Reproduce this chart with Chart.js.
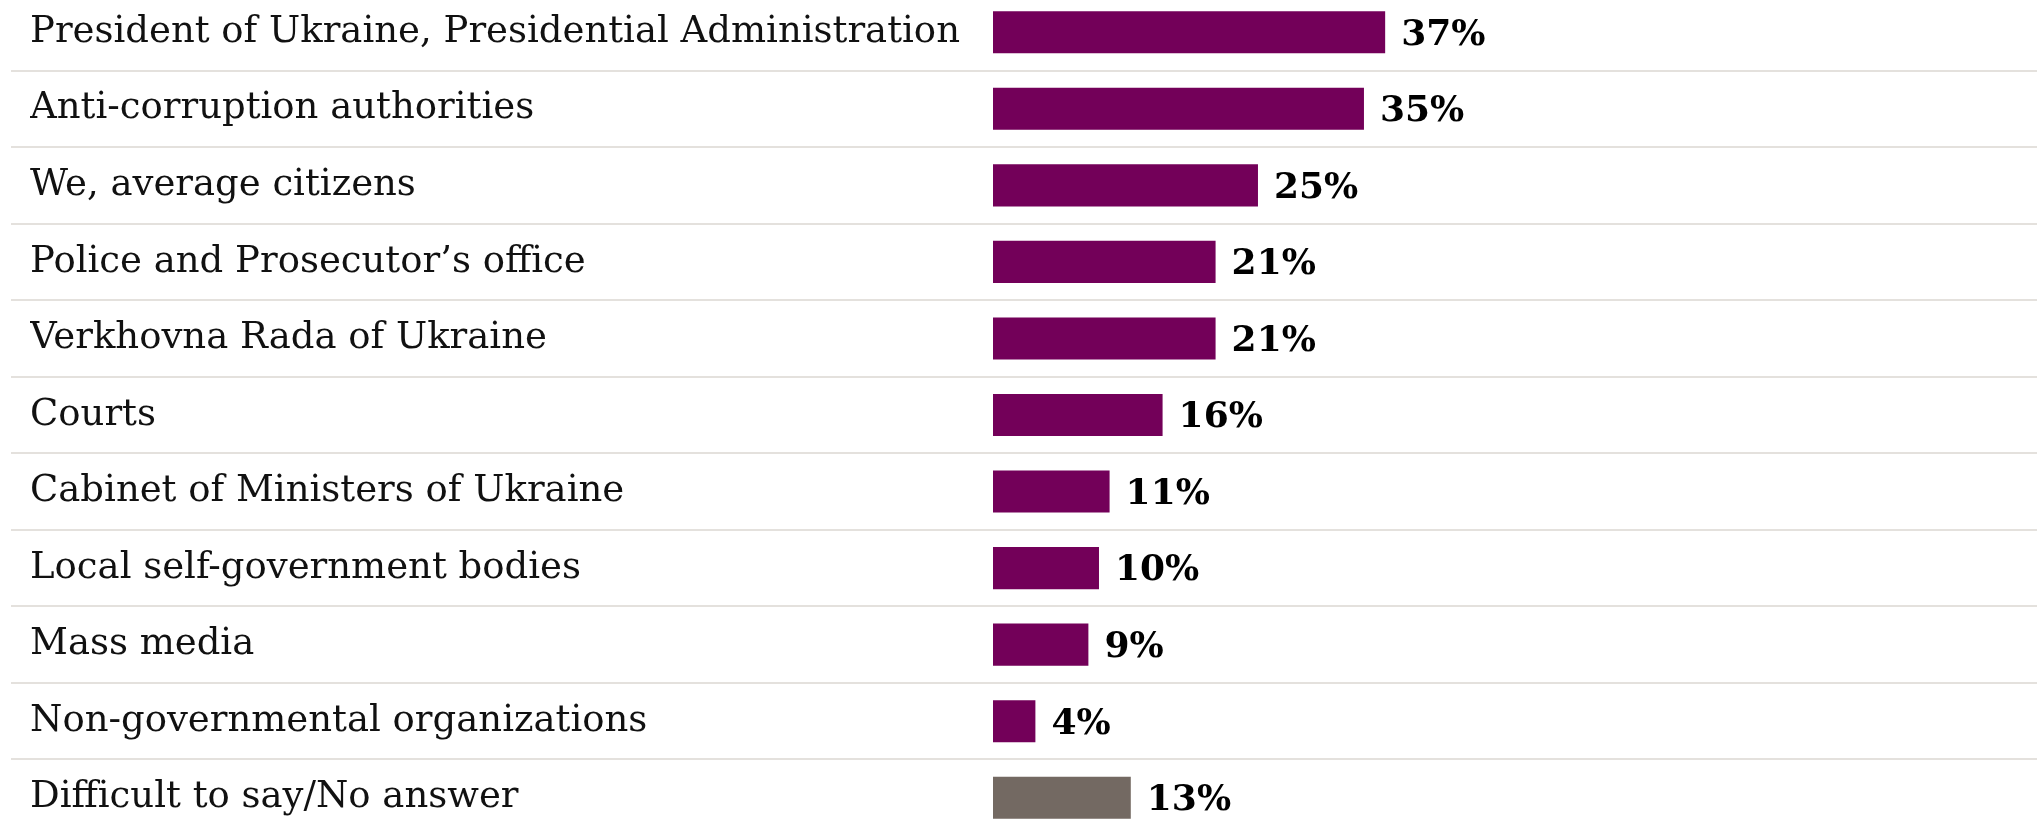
<!DOCTYPE html>
<html>
<head>
<meta charset="utf-8">
<script src="https://cdn.jsdelivr.net/npm/chart.js@4"></script>
<style>
  html, body { margin: 0; padding: 0; background: #fff; overflow: hidden; }
  #wrap { position: absolute; left: 0; top: -6px; width: 2037px; height: 842px; }
</style>
</head>
<body>
<div id="wrap"><canvas id="chart"></canvas></div>
<script>
var categories = [
  "President of Ukraine, Presidential Administration",
  "Anti-corruption authorities",
  "We, average citizens",
  "Police and Prosecutor\u2019s office",
  "Verkhovna Rada of Ukraine",
  "Courts",
  "Cabinet of Ministers of Ukraine",
  "Local self-government bodies",
  "Mass media",
  "Non-governmental organizations",
  "Difficult to say/No answer"
];
var values = [37, 35, 25, 21, 21, 16, 11, 10, 9, 4, 13];

var purple = "#730059";
var grey = "#736962";
var lineColor = "#e4e1dd";

// last row ("Difficult to say") is grey, the rest purple
var barColors = values.map(function (v, i) {
  return i === values.length - 1 ? grey : purple;
});

// draws "37%" etc. just right of each bar
var valueLabels = {
  id: 'valueLabels',
  afterDatasetsDraw: function (chart) {
    var ctx = chart.ctx;
    var meta = chart.getDatasetMeta(0);
    ctx.save();
    ctx.font = 'bold 36px "DejaVu Serif"';
    ctx.fillStyle = '#000';
    ctx.textBaseline = 'middle';
    ctx.textAlign = 'left';
    meta.data.forEach(function (bar, i) {
      ctx.fillText(values[i] + '%', bar.x + 16, bar.y + 3);
    });
    ctx.restore();
  }
};

new Chart('chart', {
  type: 'bar',
  data: {
    labels: categories,
    datasets: [{
      data: values,
      backgroundColor: barColors,
      borderWidth: 0,
      categoryPercentage: 1,
      barPercentage: 0.55
    }]
  },
  options: {
    indexAxis: 'y',
    responsive: true,
    maintainAspectRatio: false,
    animation: false,
    layout: { padding: { left: 30, right: 0, top: 0, bottom: 0 } },
    plugins: {
      legend: { display: false },
      tooltip: { enabled: false }
    },
    scales: {
      x: {
        display: false,
        min: 0,
        max: 98.5
      },
      y: {
        grid: {
          offset: true,
          color: lineColor,
          lineWidth: 2,
          drawTicks: true,
          tickLength: 982,
          tickColor: lineColor,
          tickWidth: 2
        },
        border: { display: false },
        ticks: {
          crossAlign: 'far',
          padding: 0,
          autoSkip: false,
          color: '#111',
          font: { family: 'DejaVu Serif', size: 37 }
        },
        afterFit: function (scale) {
          scale.width = 963;
          scale.paddingTop = 0;
          scale.paddingBottom = 0;
        }
      }
    }
  },
  plugins: [valueLabels]
});
</script>
</body>
</html>
